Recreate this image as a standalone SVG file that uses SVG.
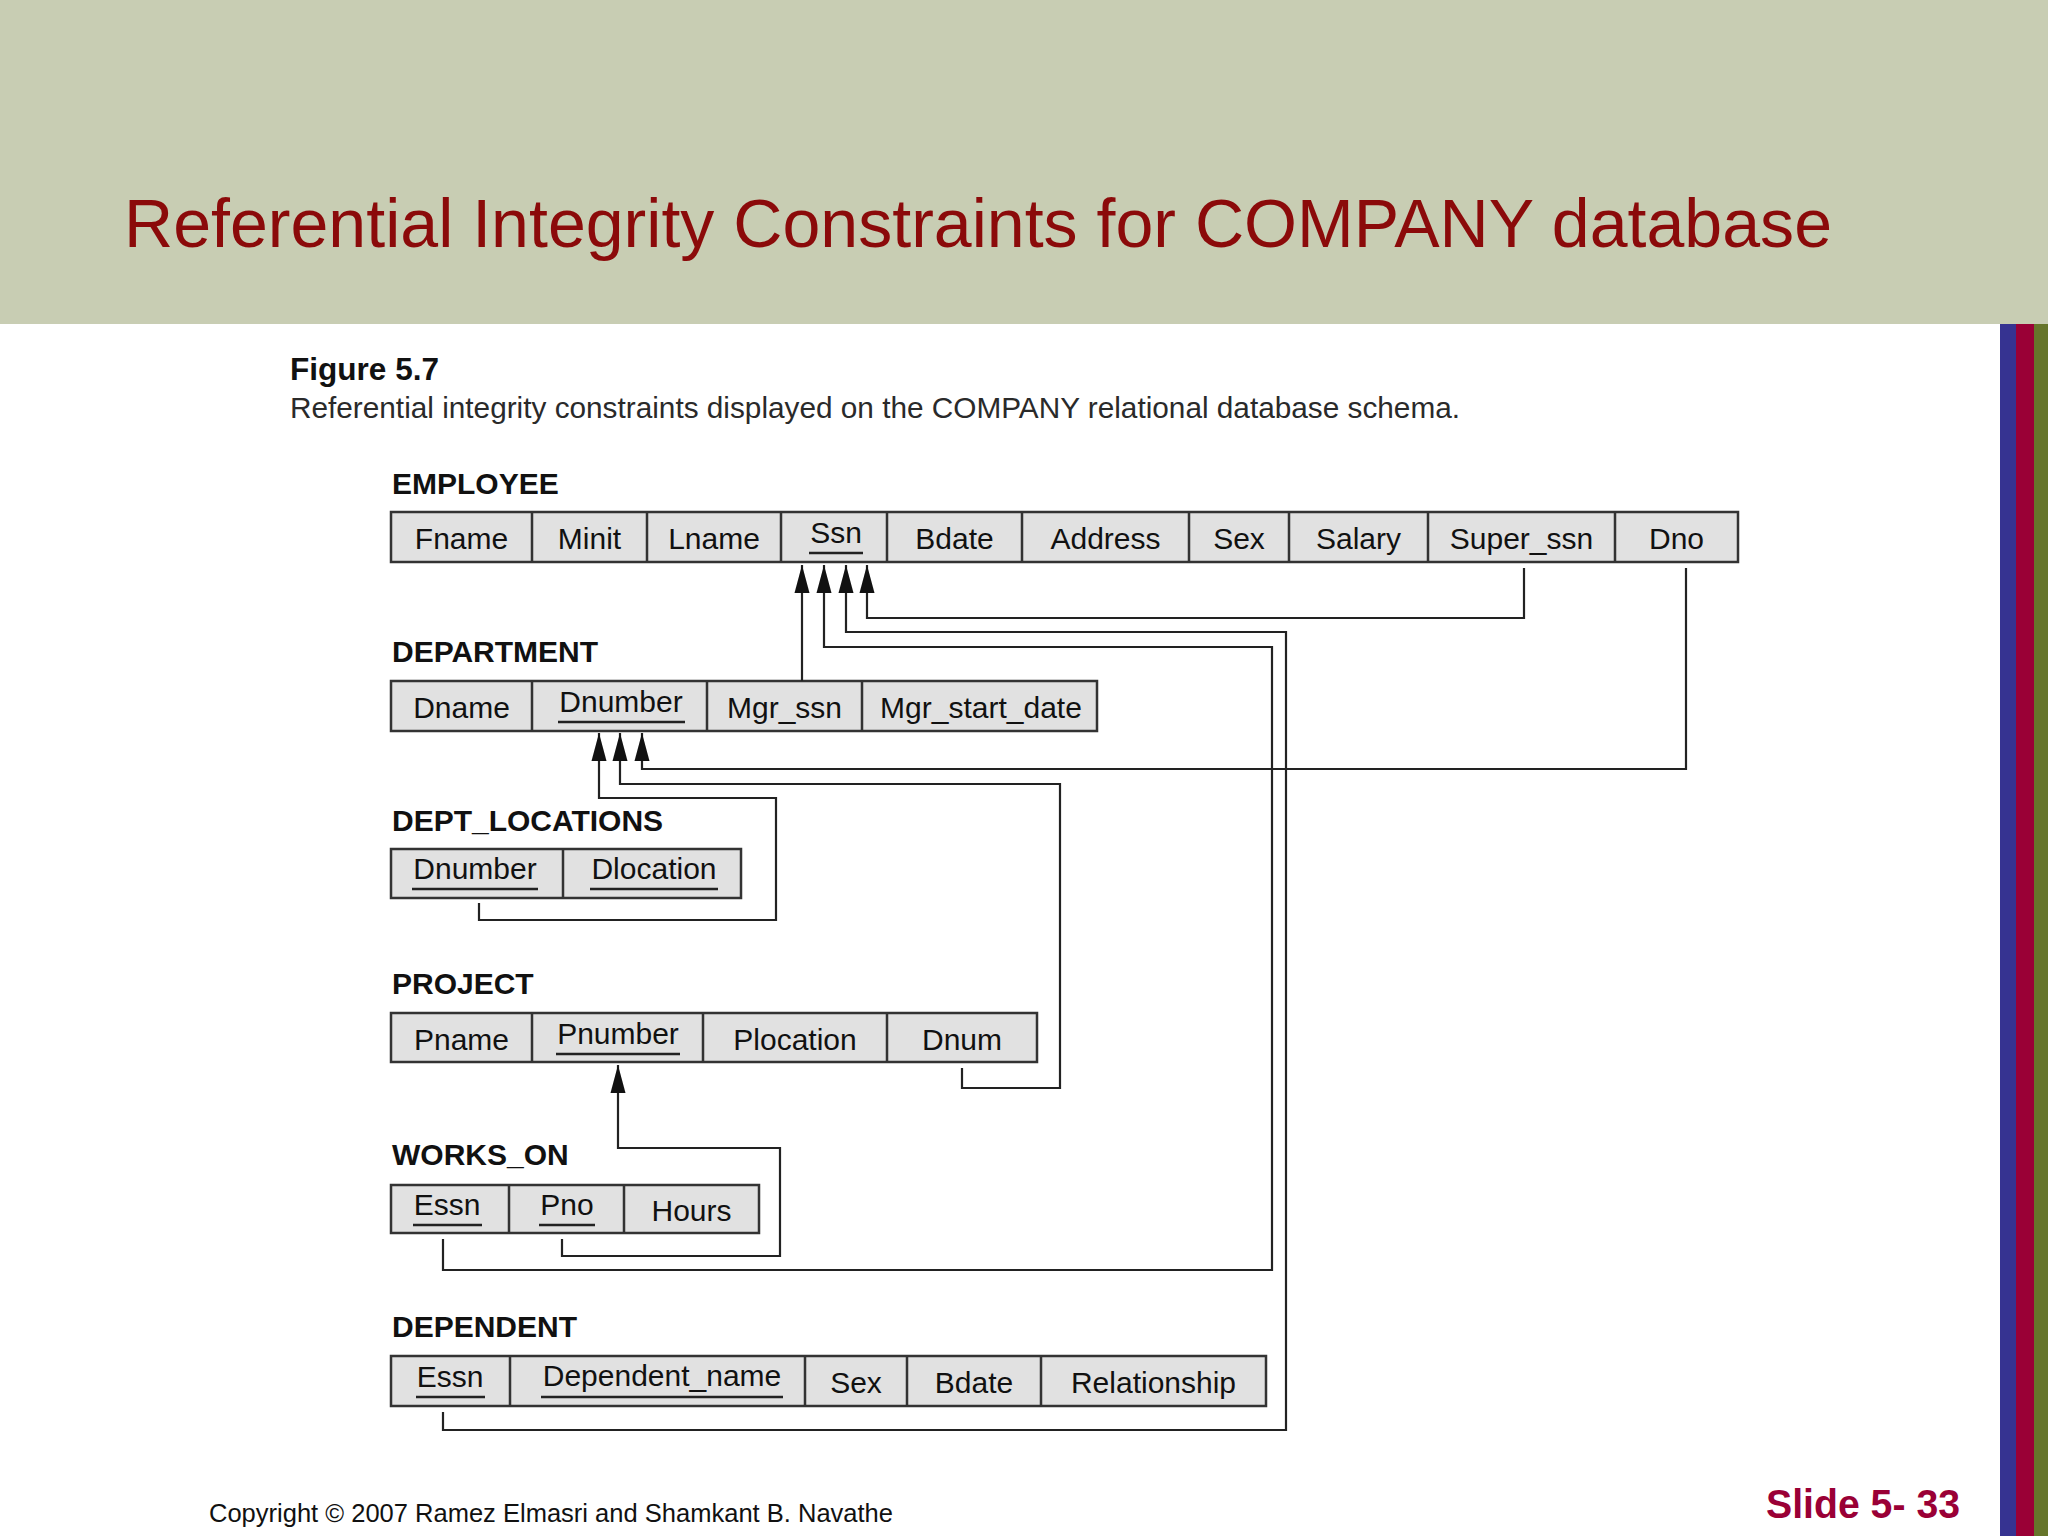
<svg xmlns="http://www.w3.org/2000/svg" width="2048" height="1536" viewBox="0 0 2048 1536">
<style>
.title{font-family:"Liberation Sans",Arial,sans-serif;font-size:68px;fill:#8b0a0a}
.fig{font-family:"Liberation Sans",Arial,sans-serif;font-size:31px;font-weight:bold;fill:#111}
.cap{font-family:"Liberation Sans",Arial,sans-serif;font-size:30px;fill:#2a2a2a}
.lbl{font-family:"Liberation Sans",Arial,sans-serif;font-size:30px;font-weight:bold;fill:#111}
.cell{fill:#e1e1e1;stroke:#333;stroke-width:2.5}
.div{stroke:#333;stroke-width:2.5}
.t{font-family:"Liberation Sans",Arial,sans-serif;font-size:30px;fill:#111;text-anchor:middle}
.ul{stroke:#222;stroke-width:2.5}
.conn{fill:none;stroke:#222;stroke-width:2.2}
.copy{font-family:"Liberation Sans",Arial,sans-serif;font-size:25px;fill:#111}
.slide{font-family:"Liberation Sans",Arial,sans-serif;font-size:40px;font-weight:bold;fill:#9a0036}
</style>
<defs>
<marker id="arr" markerUnits="userSpaceOnUse" markerWidth="30" markerHeight="16" refX="28" refY="8" orient="auto">
<path d="M0,0.5 L28,8 L0,15.5 Z" fill="#111"/>
</marker>
</defs>
<rect x="0" y="0" width="2048" height="1536" fill="#ffffff"/>
<rect x="0" y="0" width="2048" height="324" fill="#c8cdb3"/>
<rect x="2000" y="324" width="16" height="1212" fill="#363391"/>
<rect x="2016" y="324" width="18" height="1212" fill="#9a0036"/>
<rect x="2034" y="324" width="14" height="1212" fill="#66752b"/>
<text class="title" x="124" y="247" textLength="1708" lengthAdjust="spacingAndGlyphs">Referential Integrity Constraints for COMPANY database</text>
<text class="fig" x="290" y="380" textLength="149" lengthAdjust="spacingAndGlyphs">Figure 5.7</text>
<text class="cap" x="290" y="418" textLength="1170" lengthAdjust="spacingAndGlyphs">Referential integrity constraints displayed on the COMPANY relational database schema.</text>

<g id="employee">
<text class="lbl" x="392" y="494">EMPLOYEE</text>
<rect class="cell" x="391" y="512" width="1347" height="50"/>
<path class="div" d="M532,512V562M647,512V562M781,512V562M887,512V562M1022,512V562M1189,512V562M1289,512V562M1428,512V562M1615,512V562"/>
<text class="t" x="461.5" y="549">Fname</text>
<text class="t" x="589.5" y="549">Minit</text>
<text class="t" x="714" y="549">Lname</text>
<text class="t" x="836" y="543">Ssn</text>
<line class="ul" x1="809" y1="553" x2="863" y2="553"/>
<text class="t" x="954.5" y="549">Bdate</text>
<text class="t" x="1105.5" y="549">Address</text>
<text class="t" x="1239" y="549">Sex</text>
<text class="t" x="1358.5" y="549">Salary</text>
<text class="t" x="1521.5" y="549">Super_ssn</text>
<text class="t" x="1676.5" y="549">Dno</text>
</g>

<g id="department">
<text class="lbl" x="392" y="662">DEPARTMENT</text>
<rect class="cell" x="391" y="681" width="706" height="50"/>
<path class="div" d="M532,681V731M707,681V731M862,681V731"/>
<text class="t" x="461.5" y="718">Dname</text>
<text class="t" x="621" y="712">Dnumber</text>
<line class="ul" x1="558" y1="722" x2="685" y2="722"/>
<text class="t" x="784.5" y="718">Mgr_ssn</text>
<text class="t" x="981" y="718">Mgr_start_date</text>
</g>

<g id="dept_locations">
<text class="lbl" x="392" y="831">DEPT_LOCATIONS</text>
<rect class="cell" x="391" y="849" width="350" height="49"/>
<path class="div" d="M563,849V898"/>
<text class="t" x="475" y="879">Dnumber</text>
<line class="ul" x1="412" y1="889" x2="538" y2="889"/>
<text class="t" x="654" y="879">Dlocation</text>
<line class="ul" x1="590" y1="889" x2="718" y2="889"/>
</g>

<g id="project">
<text class="lbl" x="392" y="994">PROJECT</text>
<rect class="cell" x="391" y="1013" width="646" height="49"/>
<path class="div" d="M532,1013V1062M703,1013V1062M887,1013V1062"/>
<text class="t" x="461.5" y="1050">Pname</text>
<text class="t" x="618" y="1044">Pnumber</text>
<line class="ul" x1="556" y1="1054" x2="680" y2="1054"/>
<text class="t" x="795" y="1050">Plocation</text>
<text class="t" x="962" y="1050">Dnum</text>
</g>

<g id="works_on">
<text class="lbl" x="392" y="1165">WORKS_ON</text>
<rect class="cell" x="391" y="1185" width="368" height="48"/>
<path class="div" d="M509,1185V1233M624,1185V1233"/>
<text class="t" x="447" y="1215">Essn</text>
<line class="ul" x1="413" y1="1225" x2="482" y2="1225"/>
<text class="t" x="567" y="1215">Pno</text>
<line class="ul" x1="539" y1="1225" x2="595" y2="1225"/>
<text class="t" x="691.5" y="1221">Hours</text>
</g>

<g id="dependent">
<text class="lbl" x="392" y="1337">DEPENDENT</text>
<rect class="cell" x="391" y="1356" width="875" height="50"/>
<path class="div" d="M510,1356V1406M805,1356V1406M907,1356V1406M1041,1356V1406"/>
<text class="t" x="450" y="1387">Essn</text>
<line class="ul" x1="416" y1="1397" x2="485" y2="1397"/>
<text class="t" x="662" y="1386">Dependent_name</text>
<line class="ul" x1="541" y1="1397" x2="783" y2="1397"/>
<text class="t" x="856" y="1393">Sex</text>
<text class="t" x="974" y="1393">Bdate</text>
<text class="t" x="1153.5" y="1393">Relationship</text>
</g>

<g id="connectors">
<path class="conn" marker-end="url(#arr)" d="M802,681V565"/>
<path class="conn" marker-end="url(#arr)" d="M443,1239V1270H1272V647H824V565"/>
<path class="conn" marker-end="url(#arr)" d="M443,1412V1430H1286V632H846V565"/>
<path class="conn" marker-end="url(#arr)" d="M1524,568V618H867V565"/>
<path class="conn" marker-end="url(#arr)" d="M1686,568V769H642V733"/>
<path class="conn" marker-end="url(#arr)" d="M962,1068V1088H1060V784H620V733"/>
<path class="conn" marker-end="url(#arr)" d="M479,903V920H776V798H599V733"/>
<path class="conn" marker-end="url(#arr)" d="M562,1239V1256H780V1148H618V1065"/>
</g>

<text class="copy" x="209" y="1522" textLength="684" lengthAdjust="spacingAndGlyphs">Copyright © 2007 Ramez Elmasri and Shamkant B. Navathe</text>
<text class="slide" x="1766" y="1518" textLength="194" lengthAdjust="spacingAndGlyphs">Slide 5- 33</text>
</svg>
